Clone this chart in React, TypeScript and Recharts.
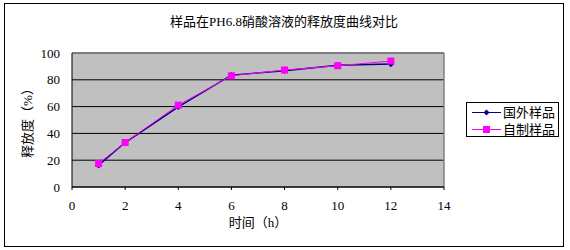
import {
  CartesianGrid,
  Legend,
  Line,
  LineChart,
  ReferenceLine,
  XAxis,
  YAxis,
} from "recharts";

// 时间 (h)
const hours = [1, 2, 4, 6, 8, 10, 12];
// 释放度 (%)
const foreignSample = [16.3, 33.2, 59.8, 83.5, 86.8, 90.8, 91.8];
const homemadeSample = [17.5, 33.2, 61.1, 83.0, 87.3, 90.5, 94.0];

const xTicks = [0, 2, 4, 6, 8, 10, 12, 14];
const yTicks = [0, 20, 40, 60, 80, 100];

const seriesNames = ["国外样品", "自制样品"];
const NAVY = "#000080";
const MAGENTA = "#ff00ff";

const FONT = '"Liberation Serif", "Noto Sans CJK SC", serif';

const data = hours.map((h, i) => ({
  h,
  foreign: foreignSample[i],
  homemade: homemadeSample[i],
}));

// 菱形标记
const Diamond = (props: any) => {
  const { cx, cy } = props;
  if (cx == null || cy == null) return null;
  return (
    <path
      d={`M${cx},${cy - 3} L${cx + 3},${cy} L${cx},${cy + 3} L${cx - 3},${cy} Z`}
      fill={NAVY}
      stroke={NAVY}
      strokeWidth={0.5}
    />
  );
};

// 方形标记
const Square = (props: any) => {
  const { cx, cy } = props;
  if (cx == null || cy == null) return null;
  return <rect x={cx - 3.5} y={cy - 3.5} width={7} height={7} fill={MAGENTA} />;
};

const LegendBox = () => (
  <div
    style={{
      width: 93,
      height: 35,
      boxSizing: "border-box",
      border: "1px solid #000",
      background: "#fff",
      fontFamily: FONT,
      fontSize: 13,
      color: "#000",
      paddingTop: 2,
    }}
  >
    {seriesNames.map((name, i) => (
      <div
        key={name}
        style={{ display: "flex", alignItems: "center", height: 15, marginTop: i ? 2 : 0 }}
      >
        <svg width={36} height={15} style={{ display: "block" }}>
          <line x1={5} x2={34} y1={7.5} y2={7.5} stroke={i ? MAGENTA : NAVY} strokeWidth={1} />
          {i ? (
            <rect x={16} y={4} width={7} height={7} fill={MAGENTA} />
          ) : (
            <path d="M19.5,4.5 L22.5,7.5 L19.5,10.5 L16.5,7.5 Z" fill={NAVY} />
          )}
        </svg>
        <span style={{ lineHeight: "15px", letterSpacing: 0 }}>{name}</span>
      </div>
    ))}
  </div>
);

export default function App() {
  return (
    <div style={{ position: "absolute", left: 0, top: 0, width: 570, height: 250, background: "#fff" }}>
      <div
        style={{
          position: "absolute",
          left: 4,
          top: 3,
          width: 560,
          height: 244,
          boxSizing: "border-box",
          border: "1px solid #000",
        }}
      />
      <div
        style={{
          position: "absolute",
          left: 0,
          top: 11,
          width: 568,
          textAlign: "center",
          fontFamily: FONT,
          fontSize: 13,
          color: "#000",
        }}
      >
        样品在PH6.8硝酸溶液的释放度曲线对比
      </div>
      <LineChart
        width={570}
        height={250}
        data={data}
        margin={{ top: 53, right: 33, bottom: 43, left: 12 }}
        style={{ position: "absolute", left: 0, top: 0 }}
      >
        <CartesianGrid
          vertical={false}
          horizontalValues={yTicks}
          stroke="#000"
          fill="#c0c0c0"
          fillOpacity={1}
        />
        <ReferenceLine y={100} stroke="#808080" strokeWidth={1.5} />
        <ReferenceLine x={14} stroke="#808080" strokeWidth={1.5} />
        <XAxis
          dataKey="h"
          type="number"
          domain={[0, 14]}
          ticks={xTicks}
          interval={0}
          height={20}
          stroke="#000"
          tickSize={3}
          tickMargin={11}
          tick={{ fill: "#000", fontSize: 13, fontFamily: FONT }}
          label={{
            value: "时间（h）",
            position: "bottom",
            offset: 11,
            fill: "#000",
            fontSize: 13,
            fontFamily: FONT,
          }}
        />
        <YAxis
          type="number"
          domain={[0, 100]}
          ticks={yTicks}
          interval={0}
          width={60}
          stroke="#000"
          tickLine={false}
          tickSize={0}
          tickMargin={12}
          tick={{ fill: "#000", fontSize: 13, fontFamily: FONT }}
          label={{
            value: "释放度（%）",
            angle: -90,
            position: "insideLeft",
            offset: 15,
            style: { textAnchor: "middle" },
            fill: "#000",
            fontSize: 13,
            fontFamily: FONT,
          }}
        />
        <Legend
          layout="vertical"
          align="right"
          verticalAlign="middle"
          content={<LegendBox />}
          wrapperStyle={{ position: "absolute", left: 466, top: 102, width: 93, height: 35 }}
        />
        <Line
          dataKey="foreign"
          name={seriesNames[0]}
          stroke={NAVY}
          strokeWidth={1.5}
          dot={<Diamond />}
          activeDot={false}
          isAnimationActive={false}
        />
        <Line
          dataKey="homemade"
          name={seriesNames[1]}
          stroke={MAGENTA}
          strokeWidth={1}
          dot={<Square />}
          activeDot={false}
          isAnimationActive={false}
        />
      </LineChart>
    </div>
  );
}
